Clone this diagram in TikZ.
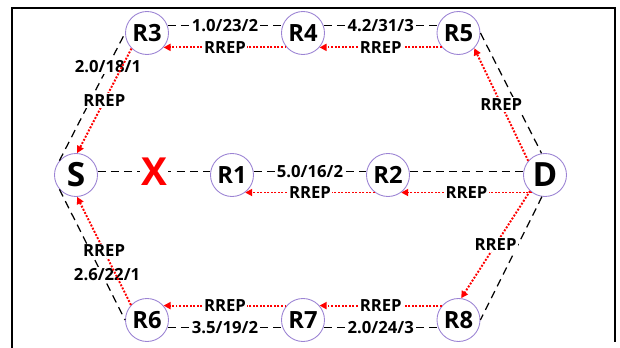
\documentclass[tikz,border=0pt]{standalone}
\usepackage{fontspec}
\setmainfont{Open Sans}
\usetikzlibrary{arrows.meta}
\definecolor{ringpurple}{HTML}{9C84D4}
\tikzset{
    router/.style={circle, draw=ringpurple, line width=0.5pt, fill=white, minimum size=0.86cm, inner sep=0pt, font=\fontsize{13.5}{14}\selectfont\bfseries},
    endpoint/.style={router, font=\fontsize{19}{20}\selectfont\bfseries},
    link/.style={black, line width=0.7pt, dash pattern=on 4.5pt off 3pt},
    reply/.style={red, line width=1.1pt, dash pattern=on 1.1pt off 0.9pt, -{Triangle[length=4pt,width=4pt]}},
    lbl/.style={fill=white, text=black, inner sep=0.8pt, font=\fontsize{9.5}{10}\selectfont\bfseries},
    cross/.style={red, fill=white, inner sep=0.5pt, font=\fontsize{22}{22}\selectfont\bfseries}
}
\begin{document}
\begin{tikzpicture}
    \useasboundingbox (0,0) rectangle (12.4,6.96);
    \draw[line width=1.1pt] (0.24,0) -- (0.24,6.8) -- (12.3,6.8) -- (12.3,0.12);
    \foreach \Name/\X/\Y in {R3/2.94/6.3, R4/6.06/6.3, R5/9.17/6.3, R1/4.64/3.46, R2/7.76/3.46, R6/2.94/0.56, R7/6.06/0.56, R8/9.17/0.56}{
        \node[router] (\Name) at (\X,\Y) {\Name};
    }
    \node[endpoint] (S) at (1.52,3.46) {S};
    \node[endpoint] (D) at (10.9,3.46) {D};

    \draw[link] (R3.20) -- (R4.160) node[midway, lbl] {1.0/23/2};
    \draw[link] (R4.20) -- (R5.160) node[midway, lbl] {4.2/31/3};
    \draw[reply] (R5.-139) -- (R4.-41) node[midway, lbl] {RREP};
    \draw[reply] (R4.-139) -- (R3.-41) node[midway, lbl] {RREP};

    \draw[link] (S.10) -- (R1.170);
    \node[cross] (cut) at (3.08,3.52) {X};
    \draw[link] (R1.10) -- (R2.170) node[midway, lbl] {5.0/16/2};
    \draw[link] (R2.10) -- (D.170);
    \draw[reply] (R2.-127) -- (R1.-53) node[midway, lbl] {RREP};
    \draw[reply] (D.-127) -- (R2.-53) node[midway, lbl] {RREP};

    \draw[link] (R6.-19) -- (R7.-161) node[midway, lbl] {3.5/19/2};
    \draw[link] (R7.-19) -- (R8.-161) node[midway, lbl] {2.0/24/3};
    \draw[reply] (R7.139) -- (R6.41) node[midway, lbl] {RREP};
    \draw[reply] (R8.139) -- (R7.41) node[midway, lbl] {RREP};

    \draw[link] (S.139) -- (R3.180) node[pos=0.74, lbl] {2.0/18/1};
    \draw[reply] (R3.225) -- (S.87) node[midway, lbl] {RREP};
    \draw[link] (S.221) -- (R6.180) node[pos=0.65, lbl, xshift=0.1cm] {2.6/22/1};
    \draw[reply] (R6.137) -- (S.273) node[midway, lbl] {RREP};
    \draw[link] (R5.0) -- (D.99);
    \draw[reply] (D.140) -- (R5.-44) node[midway, lbl] {RREP};
    \draw[link] (D.262) -- (R8.0);
    \draw[reply] (D.227) -- (R8.83) node[midway, lbl] {RREP};
\end{tikzpicture}
\end{document}
